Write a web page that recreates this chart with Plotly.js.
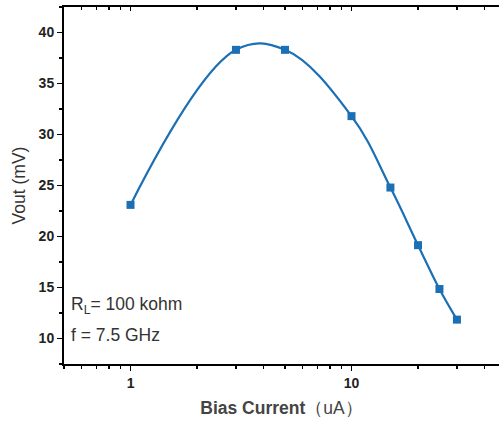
<!DOCTYPE html>
<html>
<head>
<meta charset="utf-8">
<script src="https://cdn.plot.ly/plotly-3.0.1.min.js"></script>
<style>html,body{margin:0;padding:0;background:#fff;}#chart{width:499px;height:424px;}</style>
</head>
<body>
<div id="chart"></div>
<script>
// Data
const biasCurrent = [1, 3, 5, 10, 15, 20, 25, 30];          // uA
const vout = [23.1, 38.3, 38.3, 31.8, 24.8, 19.15, 14.85, 11.85]; // mV
const xTickVals = [1, 10];
const xTickText = ['1', '10'];
const annotationLines = ['R<sub>L</sub>= 100 kohm', 'f = 7.5 GHz'];

const blue = '#1a6fb5';
const trace = {
  x: biasCurrent,
  y: vout,
  type: 'scatter',
  mode: 'lines+markers',
  line: {color: blue, width: 2.2, shape: 'spline', smoothing: 1.1},
  marker: {symbol: 'square', size: 8, color: blue},
  hoverinfo: 'skip',
  showlegend: false
};

const tickFont = {family: 'Liberation Sans, Arial, sans-serif', size: 14, color: '#222', weight: 'bold'};

const layout = {
  width: 499,
  height: 424,
  margin: {l: 64, r: 0, t: 7, b: 60},
  paper_bgcolor: '#fff',
  plot_bgcolor: '#fff',
  xaxis: {
    type: 'log',
    range: [Math.log10(0.5), Math.log10(46.5)],
    tickvals: xTickVals,
    ticktext: xTickText,
    ticks: 'outside',
    ticklen: 5,
    tickwidth: 1.5,
    tickcolor: '#000',
    minor: {ticks: 'outside', ticklen: 3, tickwidth: 1.5, tickcolor: '#000', dtick: 'D1', showgrid: false},
    showline: true,
    linecolor: '#000',
    linewidth: 2,
    mirror: true,
    showgrid: false,
    zeroline: false,
    tickfont: tickFont,
    title: {
      text: '<b>Bias Current</b>（uA）',
      font: {family: 'Liberation Sans, Arial, sans-serif', size: 17.5, color: '#444'},
      standoff: 12
    }
  },
  xaxis2: {
    type: 'log',
    overlaying: 'x',
    side: 'top',
    matches: 'x',
    range: [Math.log10(0.5), Math.log10(46.5)],
    tickvals: xTickVals,
    ticks: 'inside',
    ticklen: 4,
    tickwidth: 1.5,
    tickcolor: '#000',
    minor: {ticks: 'inside', ticklen: 3, tickwidth: 1.5, tickcolor: '#000', dtick: 'D1', showgrid: false},
    showticklabels: false,
    showline: false,
    showgrid: false,
    zeroline: false
  },
  yaxis: {
    range: [7.5, 42.5],
    dtick: 5,
    tick0: 0,
    ticks: 'outside',
    ticklen: 5,
    tickwidth: 1.5,
    tickcolor: '#000',
    minor: {ticks: 'outside', ticklen: 3, tickwidth: 1.5, tickcolor: '#000', dtick: 2.5, showgrid: false},
    showline: true,
    linecolor: '#000',
    linewidth: 2,
    mirror: false,
    showgrid: false,
    zeroline: false,
    tickfont: tickFont,
    title: {
      text: 'Vout (mV)',
      font: {family: 'Liberation Sans, Arial, sans-serif', size: 17.5, color: '#333'},
      standoff: 8
    }
  },
  annotations: annotationLines.map((t, i) => ({
    xref: 'paper', yref: 'paper',
    x: 0.012, y: [0.165, 0.082][i],
    xanchor: 'left', yanchor: 'middle',
    text: t,
    showarrow: false,
    font: {family: 'Liberation Sans, Arial, sans-serif', size: 17.5, color: '#333'}
  }))
};

const ghost = {x: [1], y: [20], xaxis: 'x2', yaxis: 'y', mode: 'markers', marker: {opacity: 0}, hoverinfo: 'skip', showlegend: false};

Plotly.newPlot('chart', [trace, ghost], layout, {staticPlot: true, displayModeBar: false});
</script>
</body>
</html>
